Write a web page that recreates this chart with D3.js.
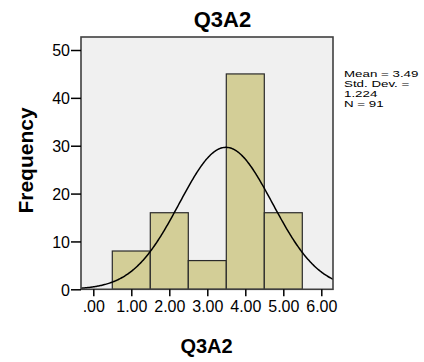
<!DOCTYPE html>
<html>
<head>
<meta charset="utf-8">
<script src="https://cdn.jsdelivr.net/npm/d3@7"></script>
<style>
  html, body { margin: 0; padding: 0; background: #ffffff; }
  svg { display: block; }
  text { font-family: Arial, "Liberation Sans", sans-serif; fill: #000; }
</style>
</head>
<body>
<svg id="chart" width="424" height="362"></svg>
<script>
// Histogram of Q3A2 responses (bin centres 1..5) with a fitted normal curve
const binCenters = [1, 2, 3, 4, 5];
const frequencies = [8, 16, 6, 45, 16];
const xTicks = [0, 1, 2, 3, 4, 5, 6];
const yTicks = [0, 10, 20, 30, 40, 50];
const statLines = ["Mean = 3.49", "Std. Dev. =", "1.224", "N = 91"];
const meanValue = 3.49;
const sdValue = 1.224;
const nValue = 91;
const binWidth = 1;

const svg = d3.select("#chart");

const x = d3.scaleLinear().domain([0, 6]).range([93.3, 321.3]);
const y = d3.scaleLinear().domain([0, 50]).range([289.3, 50]);

const xMin = x.invert(81), xMax = x.invert(333);
const yTop = y.invert(37);

const frame = { x0: x(xMin), x1: x(xMax), y0: y(yTop), y1: y(0) };

// plot background
svg.append("rect")
  .attr("x", frame.x0).attr("y", frame.y0)
  .attr("width", frame.x1 - frame.x0).attr("height", frame.y1 - frame.y0)
  .attr("fill", "#f0f0f0");

svg.append("clipPath").attr("id", "plotClip")
  .append("rect")
  .attr("x", frame.x0).attr("y", frame.y0)
  .attr("width", frame.x1 - frame.x0).attr("height", frame.y1 - frame.y0);

// bars
svg.append("g").selectAll("rect")
  .data(binCenters.map((c, i) => ({ c, f: frequencies[i] })))
  .join("rect")
  .attr("x", d => x(d.c - binWidth / 2))
  .attr("width", d => x(d.c + binWidth / 2) - x(d.c - binWidth / 2))
  .attr("y", d => y(d.f))
  .attr("height", d => y(0) - y(d.f))
  .attr("fill", "#d3ce97")
  .attr("stroke", "#2a2a2a")
  .attr("stroke-width", 1.2);

// normal curve scaled to counts
const pdf = v => Math.exp(-0.5 * ((v - meanValue) / sdValue) ** 2) / (sdValue * Math.sqrt(2 * Math.PI));
const curvePts = d3.range(0, 301).map(i => {
  const v = xMin + (xMax - xMin) * i / 300;
  return [v, nValue * binWidth * pdf(v)];
});
svg.append("path")
  .datum(curvePts)
  .attr("clip-path", "url(#plotClip)")
  .attr("fill", "none")
  .attr("stroke", "#000")
  .attr("stroke-width", 1.5)
  .attr("d", d3.line().x(d => x(d[0])).y(d => y(d[1])));

// frame
svg.append("rect")
  .attr("x", frame.x0).attr("y", frame.y0)
  .attr("width", frame.x1 - frame.x0).attr("height", frame.y1 - frame.y0)
  .attr("fill", "none")
  .attr("stroke", "#404040")
  .attr("stroke-width", 1.6);

// y axis
const yAxis = d3.axisLeft(y).tickValues(yTicks).tickSize(10).tickPadding(1).tickFormat(d3.format("d"));
const gy = svg.append("g").attr("transform", `translate(${frame.x0},0)`).call(yAxis);
gy.select(".domain").remove();
gy.selectAll(".tick line").attr("stroke", "#000").attr("stroke-width", 1.5);
gy.selectAll(".tick text").attr("font-size", 16).attr("fill", "#222")
  .attr("font-family", "Arial, 'Liberation Sans', sans-serif").attr("dy", "0.36em");

// x axis
const xAxis = d3.axisBottom(x).tickValues(xTicks).tickSize(7).tickPadding(4)
  .tickFormat(d => d3.format(".2f")(d).replace(/^0\./, "."));
const gx = svg.append("g").attr("transform", `translate(0,${frame.y1})`).call(xAxis);
gx.select(".domain").remove();
gx.selectAll(".tick line").attr("stroke", "#000").attr("stroke-width", 1.5);
gx.selectAll(".tick text").attr("font-size", 16).attr("fill", "#222")
  .attr("font-family", "Arial, 'Liberation Sans', sans-serif");

// titles
svg.append("text").attr("x", 222.5).attr("y", 27).attr("text-anchor", "middle")
  .attr("font-size", 22).attr("font-weight", "bold").text("Q3A2");
svg.append("text").attr("x", 206.5).attr("y", 353).attr("text-anchor", "middle")
  .attr("font-size", 20).attr("font-weight", "bold").text("Q3A2");
svg.append("text").attr("transform", "translate(33,160.5) rotate(-90)")
  .attr("text-anchor", "middle").attr("font-size", 21).attr("font-weight", "bold").text("Frequency");

// summary statistics, set tight and wide
const stats = svg.append("g").attr("transform", "translate(344,0) scale(1.55,1)");
stats.selectAll("text").data(statLines).join("text")
  .attr("x", 0).attr("y", (d, i) => 77 + i * 10)
  .attr("font-size", 8.6).text(d => d);
</script>
</body>
</html>
